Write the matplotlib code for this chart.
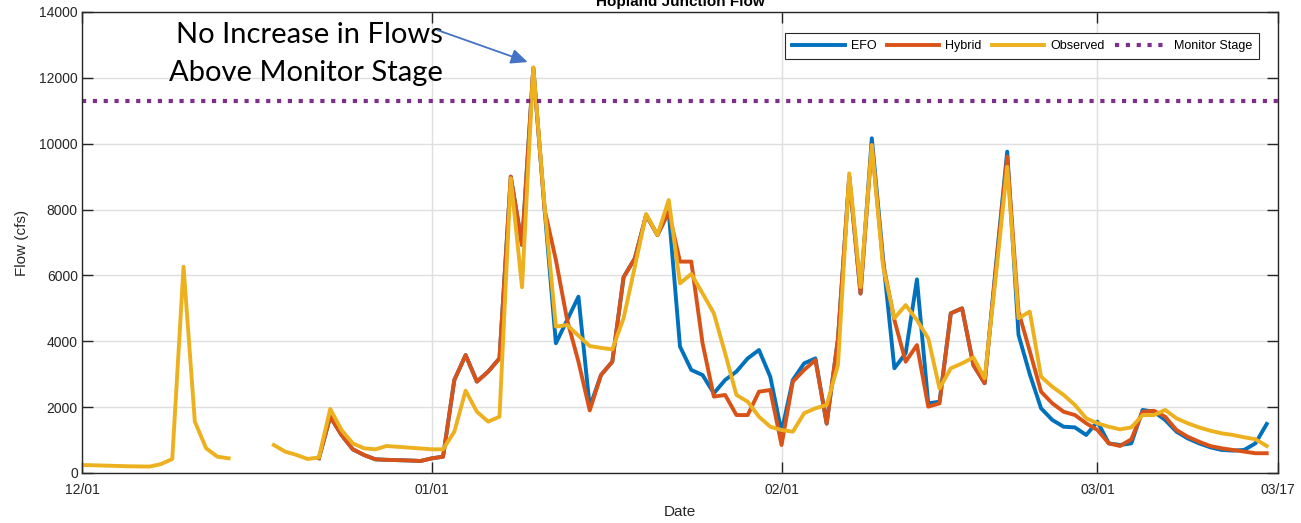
import numpy as np
import pandas as pd
import matplotlib
matplotlib.use("Agg")
import matplotlib.pyplot as plt
import matplotlib.dates as mdates

nan = np.nan

# daily flows (cfs), 12/01 through 03/16
dates = pd.date_range("2018-12-01", periods=106, freq="D")

observed = [
    243, 235, 225, 215, 205, 200, 195, 270, 425, 6265, 1560, 750, 495, 445,
    nan, nan, nan,
    850, 650, 550, 425, 475, 1945, 1305, 900, 750, 720, 820, 795, 770, 745, 720,
    720, 1255, 2500, 1860, 1560, 1710, 8950, 5640, 12320, 8090, 4445, 4495, 4170, 3855,
    3800, 3755, 4700, 6270, 7865, 7225, 8290, 5760, 6045, 5455, 4850, 3635, 2370, 2165,
    1710, 1405, 1305, 1255, 1815, 1965, 2065, 3280, 9100, 5650, 9960, 6265, 4700, 5100,
    4645, 4090, 2570, 3180, 3330, 3510, 2875, 6000, 9300, 4700, 4900, 2925, 2620, 2370,
    2065, 1660, 1510, 1405, 1325, 1385, 1760, 1760, 1915, 1660, 1510, 1385, 1285, 1205,
    1155, 1085, 1025, 820,
]

hybrid = [nan] * 21 + [
    450, 1710, 1155, 720, 545, 415, 400, 390, 380, 365, 445, 495, 2825, 3580,
    2775, 3080, 3480, 9000, 6925, 12300, 8000, 6470, 4645, 3380, 1900, 2975, 3380, 5945,
    6520, 7835, 7225, 7935, 6420, 6420, 3940, 2320, 2370, 1760, 1760, 2470, 2520, 850,
    2775, 3130, 3430, 1500, 4070, 9000, 5450, 9960, 6370, 4645, 3380, 3885, 2015, 2115,
    4850, 5000, 3280, 2725, 6200, 9605, 4900, 3700, 2470, 2115, 1860, 1760, 1510, 1305,
    900, 820, 1025, 1860, 1890, 1710, 1305, 1100, 950, 820, 750, 700, 650, 600, 600,
]

efo = [nan] * 21 + [
    450, 1710, 1155, 720, 545, 415, 400, 390, 380, 365, 445, 495, 2825, 3580,
    2775, 3080, 3480, 9000, 6925, 12300, 8000,
    3940, 4645, 5355, 2000,
    2975, 3380, 5945, 6520, 7835, 7225, 7935,
    3840, 3130, 2975, 2420, 2825, 3080, 3480, 3735, 2925, 1250,
    2825, 3330, 3480, 1500, 4070, 9000, 5450, 10165, 6500,
    3180, 3635, 5880, 2115, 2165, 4850, 5000, 3280, 2725, 6300, 9760, 4200, 3000,
    1965, 1610, 1405, 1385, 1155, 1560, 900, 850, 900, 1915, 1860, 1610, 1255, 1050,
    900, 780, 700, 680, 700, 900, 1490,
]

monitor_stage = 11300

tick_dates = ["2018-12-01", "2019-01-01", "2019-02-01", "2019-03-01", "2019-03-17"]

plt.rcParams["font.family"] = ["Liberation Sans", "DejaVu Sans"]
axis_color = "#262626"

fig = plt.figure(figsize=(13.01, 5.23), dpi=100)
ax = fig.add_axes([82 / 1301, 50 / 523, 1196 / 1301, 461 / 523])

lw = 2.8
ax.plot(dates, efo, color="#0072BD", lw=lw, label="EFO")
ax.plot(dates, hybrid, color="#D95319", lw=lw, label="Hybrid")
ax.plot(dates, observed, color="#EDB120", lw=lw, label="Observed")
ax.axhline(monitor_stage, color="#7E2F8E", lw=3, dashes=(1.0, 1.6),
           dash_capstyle="butt", label="Monitor Stage")

ax.set_xlim(pd.Timestamp(tick_dates[0]), pd.Timestamp(tick_dates[-1]))
ax.set_ylim(0, 14000)
ax.set_yticks(np.arange(0, 14001, 2000))
ax.set_xticks([pd.Timestamp(d) for d in tick_dates])
ax.xaxis.set_major_formatter(mdates.DateFormatter("%m/%d"))

ax.grid(True, color="#dfdfdf", lw=1)
ax.set_axisbelow(True)
for s in ax.spines.values():
    s.set_color(axis_color)
    s.set_linewidth(1)
ax.tick_params(direction="in", length=8, width=1, color=axis_color,
               top=True, right=True, labelsize=10, labelcolor=axis_color)
ax.tick_params(axis="x", pad=7)
ax.tick_params(axis="y", pad=3)

ax.set_xlabel("Date", fontsize=11, color=axis_color, labelpad=6)
ax.set_ylabel("Flow (cfs)", fontsize=11, color=axis_color, labelpad=7)
ax.set_title("Hopland Junction Flow", fontsize=11, fontweight="bold", pad=4)

leg = ax.legend(loc="upper right", bbox_to_anchor=(0.984, 0.954), ncol=4,
                fontsize=9, frameon=True, fancybox=False, framealpha=1,
                edgecolor=axis_color, borderaxespad=0, handlelength=4.2,
                handletextpad=0.5, columnspacing=0.8, borderpad=0.55)
leg.get_frame().set_linewidth(0.8)

# callout over the January peak
x0 = mdates.date2num(pd.Timestamp("2019-01-01"))
ax.text(x0 + 0.97, 13060, "No Increase in Flows", ha="right", va="baseline",
        fontsize=21, family="Lato", color="black")
ax.text(x0 + 0.97, 11905, "Above Monitor Stage", ha="right", va="baseline",
        fontsize=21, family="Lato", color="black")
ax.annotate("", xy=(x0 + 8.5, 12480), xytext=(x0 + 0.5, 13450),
            arrowprops=dict(arrowstyle="-|>,head_length=1.0,head_width=0.45",
                            color="#4472C4", lw=1.3, shrinkA=0, shrinkB=0))

fig.savefig("out.png", dpi=100)
